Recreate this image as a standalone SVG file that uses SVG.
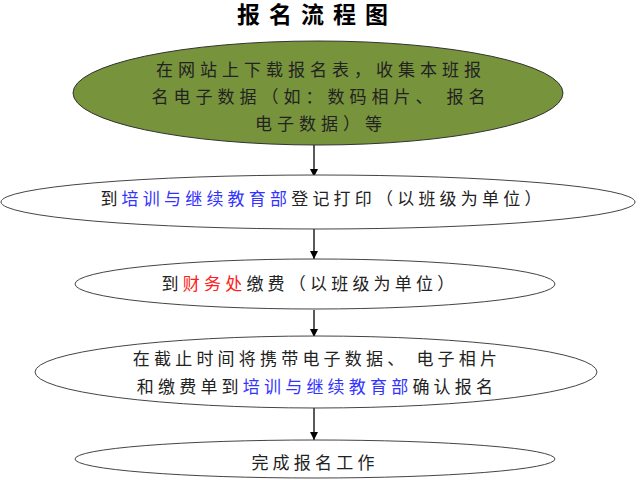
<svg xmlns="http://www.w3.org/2000/svg" width="640" height="480" viewBox="0 0 640 480">
<defs>
<marker id="ah" markerWidth="8" markerHeight="8" refX="8" refY="4" orient="auto" markerUnits="userSpaceOnUse">
<path d="M0,0 L8,4 L0,8 Z" fill="#000"/>
</marker>
<style>
.t{font-family:"Noto Sans CJK SC","Liberation Sans",sans-serif;font-size:17px;fill:#222;letter-spacing:4.2px;text-anchor:middle}
.w{letter-spacing:5px}
.b{fill:#3333ff}
.r{fill:#ff2020}
.e{fill:#fff;stroke:#444;stroke-width:1}
.c{stroke:#000;stroke-width:1.3;fill:none}
</style>
</defs>
<rect width="640" height="480" fill="#fff"/>
<text x="317" y="23" style="font-family:'Noto Sans CJK SC',sans-serif;font-size:23px;font-weight:bold;letter-spacing:9px;text-anchor:middle" fill="#000">报名流程图</text>
<g id="connectors">
<line class="c" x1="314" y1="145" x2="314" y2="177" marker-end="url(#ah)"/>
<line class="c" x1="314" y1="229" x2="314" y2="259" marker-end="url(#ah)"/>
<line class="c" x1="314" y1="310" x2="314" y2="337" marker-end="url(#ah)"/>
<line class="c" x1="314" y1="408" x2="314" y2="440" marker-end="url(#ah)"/>
</g>
<g id="n1">
<ellipse cx="318" cy="93" rx="245" ry="52" fill="#77933c" stroke="#333" stroke-width="1"/>
<text class="t w" x="321" y="76">在网站上下载报名表，收集本班报</text>
<text class="t w" x="321" y="103">名电子数据（如：数码相片、 报名</text>
<text class="t w" x="321" y="130">电子数据）等</text>
</g>
<g id="n2">
<ellipse class="e" cx="318" cy="202" rx="317" ry="27"/>
<text class="t" x="323" y="205">到<tspan class="b">培训与继续教育部</tspan>登记打印（以班级为单位）</text>
</g>
<g id="n3">
<ellipse class="e" cx="315" cy="284" rx="240" ry="25"/>
<text class="t" x="310" y="290">到<tspan class="r">财务处</tspan>缴费（以班级为单位）</text>
</g>
<g id="n4">
<ellipse class="e" cx="316" cy="372" rx="281" ry="36"/>
<text class="t" x="317" y="365">在截止时间将携带电子数据、 电子相片</text>
<text class="t" x="317" y="393">和缴费单到<tspan class="b">培训与继续教育部</tspan>确认报名</text>
</g>
<g id="n5">
<ellipse class="e" cx="315" cy="459" rx="240" ry="19"/>
<text class="t" x="315" y="469">完成报名工作</text>
</g>
</svg>
